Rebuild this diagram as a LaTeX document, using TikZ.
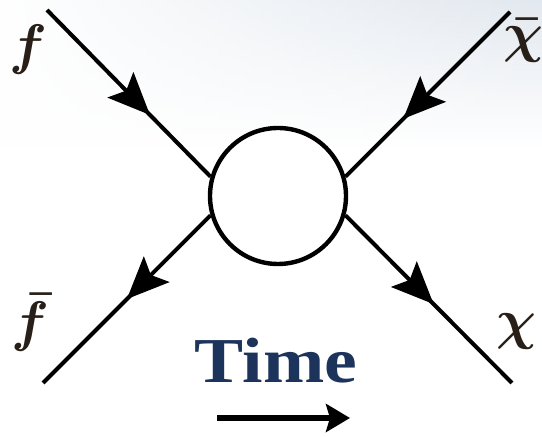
\documentclass[tikz,border=0pt]{standalone}
\usepackage{fontspec}
\newfontfamily\timefont{Liberation Serif}
\usetikzlibrary{arrows.meta,decorations.markings,fadings}
\definecolor{timeblue}{RGB}{28,52,92}
\definecolor{labelink}{RGB}{40,32,24}
\definecolor{bgtop}{RGB}{226,232,239}
\tikzfading[name=bgfade, left color=transparent!100, right color=transparent!0]

\begin{document}
\begin{tikzpicture}[x=0.5pt, y=-0.5pt, >=Stealth,
  leg/.style={line width=2pt},
  midarrow/.style={postaction={decorate}, decoration={markings,
    mark=at position #1 with {\arrow{Stealth[length=21pt,width=18pt,inset=4pt]}}}},
  lbl/.style={inner sep=0pt, text=labelink, scale=1.12, font=\Huge\boldmath}]
\useasboundingbox (0,0) rectangle (542,437);
% background
\fill[white] (0,0) rectangle (542,437);
\shade[top color=bgtop, bottom color=white, path fading=bgfade] (0,0) rectangle (542,150);

% vertex
\node[circle, draw, line width=2.2pt, fill=white, minimum size=68pt, inner sep=0pt] (vtx) at (278,196) {};

% free ends of the legs
\coordinate (fin)  at (47,10);
\coordinate (fbar) at (43,383);
\coordinate (xbin) at (510,12);
\coordinate (xout) at (512,383);

\draw[leg, midarrow=0.63] (fin) -- (vtx.164);
\draw[leg, midarrow=0.5] (vtx.196) -- (fbar);
\draw[leg, midarrow=0.65] (xbin) -- (vtx.16);
\draw[leg, midarrow=0.53] (vtx.344) -- (xout);

% particle labels
\node[lbl] (lf)  at (28,50)  {$f$};
\node[lbl] (lfb) at (30,322) {$\bar{f}$};
\node[lbl] (lxb) at (524,40) {$\bar{\chi}$};
\node[lbl] (lx)  at (517,332) {$\chi$};

% time direction
\node[anchor=base, inner sep=0pt, text=timeblue, xscale=1.15,
  font=\timefont\bfseries\fontsize{32}{34}\selectfont] (time) at (276,383) {Time};
\coordinate (ta) at (217,418);
\coordinate (tb) at (350,418);
\draw[line width=2.6pt, -{Stealth[length=12pt,width=14pt,inset=2pt]}] (ta) -- (tb);
\end{tikzpicture}
\end{document}
